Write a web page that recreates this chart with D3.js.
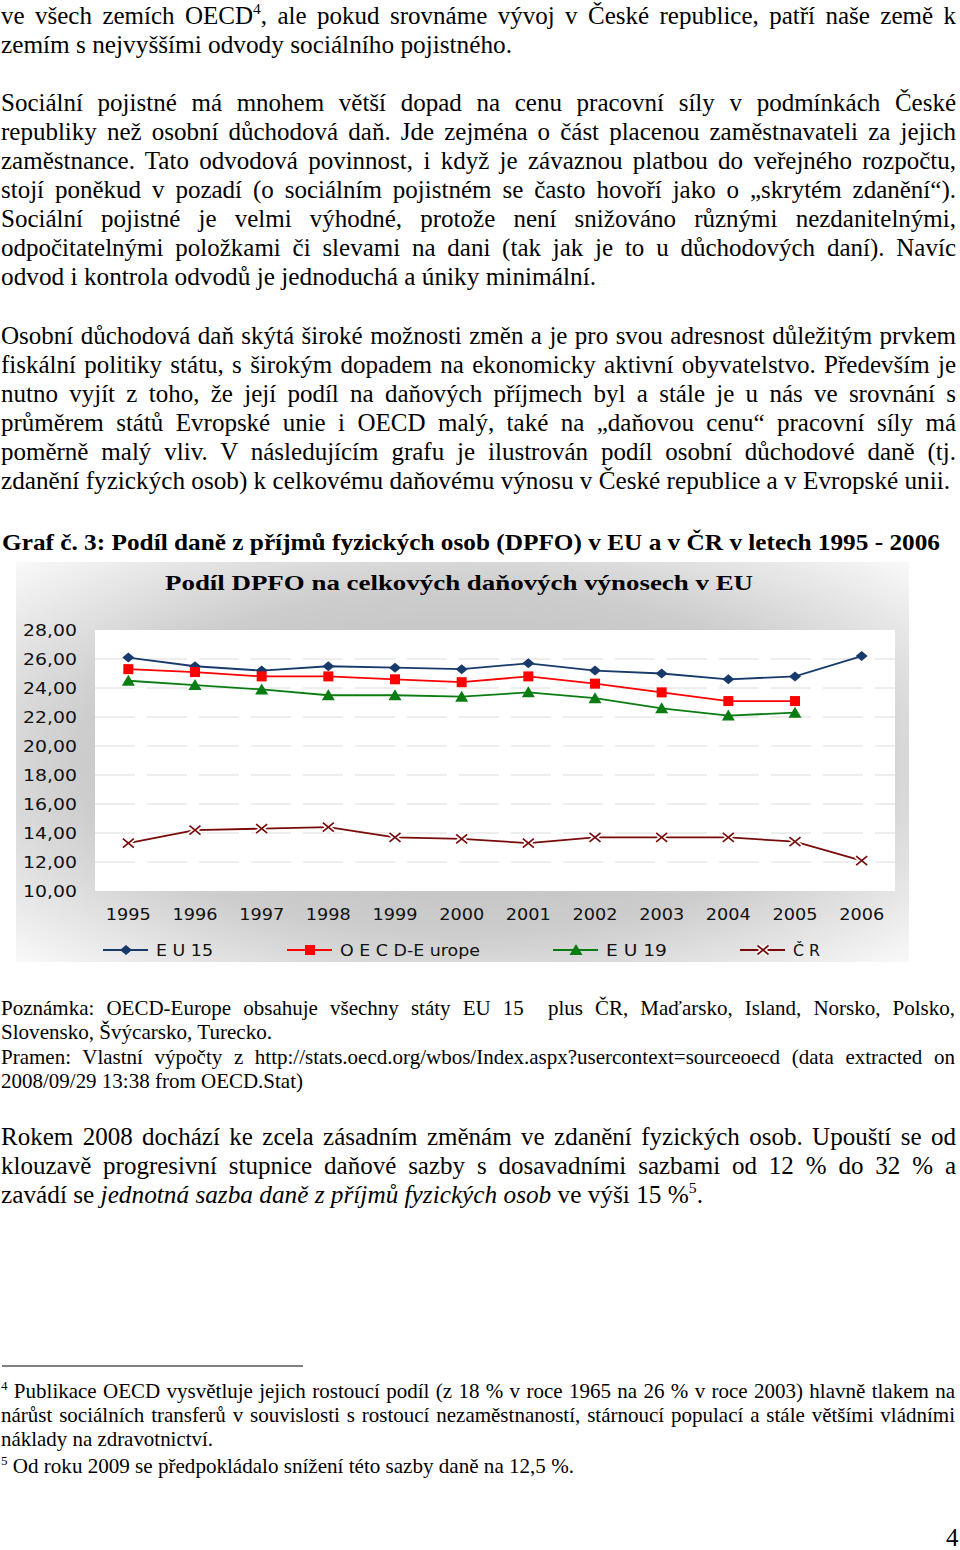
<!DOCTYPE html>
<html><head><meta charset="utf-8">
<script src="https://cdn.jsdelivr.net/npm/d3@7"></script>
<style>body{margin:0;background:#fff}svg{display:block}</style>
</head><body>
<script>
// ---- chart data ----
const years = ["1995","1996","1997","1998","1999","2000","2001","2002","2003","2004","2005","2006"];
const eu15 = [26.1,25.5,25.2,25.5,25.4,25.3,25.7,25.2,25.0,24.6,24.8,26.2];
const oecdEurope = [25.3,25.1,24.8,24.8,24.6,24.4,24.8,24.3,23.7,23.1,23.1,null];
const eu19 = [24.5,24.2,23.9,23.5,23.5,23.4,23.7,23.3,22.6,22.1,22.3,null];
const cr = [13.3,14.2,14.3,14.4,13.7,13.6,13.3,13.7,13.7,13.7,13.4,12.1];
const yTicks = [10,12,14,16,18,20,22,24,26,28];
const seriesNames = ["E U 15","O E C D-E urope","E U 19","Č R"];
const chartTitle = "Podíl DPFO na celkových daňových výnosech v EU";

// ---- page texts ----
const para1 = [
 [{t:"ve všech zemích OECD"},{t:"4",sup:true},{t:", ale pokud srovnáme vývoj v České republice, patří naše země k"}],
 [{t:"zemím s nejvyššími odvody sociálního pojistného."}]
];
const para2 = [
 "Sociální pojistné má mnohem větší dopad na cenu pracovní síly v podmínkách České",
 "republiky než osobní důchodová daň. Jde zejména o část placenou zaměstnavateli za jejich",
 "zaměstnance. Tato odvodová povinnost, i když je závaznou platbou do veřejného rozpočtu,",
 "stojí poněkud v pozadí (o sociálním pojistném se často hovoří jako o „skrytém zdanění“).",
 "Sociální pojistné je velmi výhodné, protože není snižováno různými nezdanitelnými,",
 "odpočitatelnými položkami či slevami na dani (tak jak je to u důchodových daní). Navíc",
 "odvod i kontrola odvodů je jednoduchá a úniky minimální."
];
const para3 = [
 "Osobní důchodová daň skýtá široké možnosti změn a je pro svou adresnost důležitým prvkem",
 "fiskální politiky státu, s širokým dopadem na ekonomicky aktivní obyvatelstvo. Především je",
 "nutno vyjít z toho, že její podíl na daňových příjmech byl a stále je u nás ve srovnání s",
 "průměrem států Evropské unie i OECD malý, také na „daňovou cenu“ pracovní síly má",
 "poměrně malý vliv. V následujícím grafu je ilustrován podíl osobní důchodové daně (tj.",
 "zdanění fyzických osob) k celkovému daňovému výnosu v České republice a v Evropské unii."
];
const heading = "Graf č. 3: Podíl daně z příjmů fyzických osob (DPFO) v EU a v ČR v letech 1995 - 2006";
const notes = [
 "Poznámka: OECD-Europe obsahuje všechny státy EU 15  plus ČR, Maďarsko, Island, Norsko, Polsko,",
 "Slovensko, Švýcarsko, Turecko.",
 "Pramen: Vlastní výpočty z http://stats.oecd.org/wbos/Index.aspx?usercontext=sourceoecd (data extracted on",
 "2008/09/29 13:38 from OECD.Stat)"
];
const para4 = [
 [{t:"Rokem 2008 dochází ke zcela zásadním změnám ve zdanění fyzických osob. Upouští se od"}],
 [{t:"klouzavě progresivní stupnice daňové sazby s dosavadními sazbami od 12 % do 32 % a"}],
 [{t:"zavádí se "},{t:"jednotná sazba daně z příjmů fyzických osob",it:true},{t:" ve výši 15 %"},{t:"5",sup:true},{t:"."}]
];
const footnotes = [
 [{t:"4",sup:true},{t:" Publikace OECD vysvětluje jejich rostoucí podíl (z 18 % v roce 1965 na 26 % v roce 2003) hlavně tlakem na"}],
 [{t:"nárůst sociálních transferů v souvislosti s rostoucí nezaměstnaností, stárnoucí populací a stále většími vládními"}],
 [{t:"náklady na zdravotnictví."}],
 [{t:"5",sup:true},{t:" Od roku 2009 se předpokládalo snížení této sazby daně na 12,5 %."}]
];

const svg = d3.select("body").append("svg").attr("width",960).attr("height",1550);
const SERIF = "'Liberation Serif','Times New Roman',serif";
const SANS = "'DejaVu Sans',Verdana,sans-serif";

// justify: true -> stretch word gaps; false -> scale glyphs to the given width
function line(y, parts, o){
  if (typeof parts === "string") parts=[{t:parts}];
  const size=o.size;
  const t = svg.append("text").attr("x",o.x||1).attr("y",y)
    .attr("font-family",SERIF).attr("font-size",size)
    .attr("font-weight",o.bold?"bold":null).attr("fill","#000")
    .style("white-space","pre");
  let back=0;
  parts.forEach(p=>{
    const ts=t.append("tspan").text(p.t);
    if(p.sup){ const s=size*0.4; ts.attr("dy",-s).attr("font-size",size*0.62); back=s; }
    else if(back){ ts.attr("dy",back); back=0; }
    if(p.it) ts.attr("font-style","italic");
  });
  if(o.w){
    const nat=t.node().getComputedTextLength();
    const full=parts.map(p=>p.t).join("");
    const sp=(full.match(/ /g)||[]).length;
    if(o.justify!==false && nat<o.w && sp>0) t.attr("word-spacing",(o.w-nat)/sp);
    else t.attr("textLength",o.w).attr("lengthAdjust","spacingAndGlyphs");
  }
  return t;
}

// paragraph 1
line(24, para1[0], {size:25,w:955});
line(53, para1[1], {size:25,w:511,justify:false});
// paragraph 2
para2.forEach((s,i)=>{const last=i===para2.length-1; line(111+i*29, s, {size:25, w:last?595:955, justify:!last});});
// paragraph 3
para3.forEach((s,i)=>{const last=i===para3.length-1; line(344+i*29, s, {size:25, w:last?949:955, justify:!last});});
// heading
line(550, heading, {size:23.5,bold:true,x:2,w:938,justify:false});

// ---- chart ----
const panel={x:16,y:562,w:893,h:400};
const defs=svg.append("defs");
const rg=defs.append("radialGradient").attr("id","bg").attr("cx","0.5").attr("cy","0.5").attr("r","0.72");
rg.append("stop").attr("offset","0").attr("stop-color","#b4b4b4");
rg.append("stop").attr("offset","0.6").attr("stop-color","#cdcdcd");
rg.append("stop").attr("offset","1").attr("stop-color","#fbfbfb");
svg.append("rect").attr("x",panel.x).attr("y",panel.y).attr("width",panel.w).attr("height",panel.h).attr("fill","url(#bg)");

svg.append("text").attr("x",165).attr("y",590).attr("font-family",SERIF).attr("font-weight","bold")
  .attr("font-size",22).attr("textLength",588).attr("lengthAdjust","spacingAndGlyphs").text(chartTitle);

const plot={l:95,r:895,t:630,b:891};
svg.append("rect").attr("x",plot.l).attr("y",plot.t).attr("width",plot.r-plot.l).attr("height",plot.b-plot.t).attr("fill","#fff");

const x=d3.scaleBand().domain(years).range([plot.l,plot.r]).padding(0);
const cx=d=>x(d)+x.bandwidth()/2;
const y=d3.scaleLinear().domain([10,28]).range([plot.b,plot.t]);

// gridlines
svg.append("g").selectAll("line").data(yTicks.filter(v=>v>10&&v<28)).join("line")
  .attr("x1",plot.l).attr("x2",plot.r).attr("y1",d=>y(d)).attr("y2",d=>y(d))
  .attr("stroke","#dcdcdc").attr("stroke-width",1).attr("stroke-dasharray","40,12");

// y axis
const fmt=v=>d3.format(".2f")(v).replace(".",",");
const ya=svg.append("g").call(d3.axisLeft(y).tickValues(yTicks).tickFormat(fmt).tickSize(0));
ya.select(".domain").remove();
ya.selectAll("text").attr("x",23).attr("text-anchor","start").attr("dy","0.36em")
  .attr("font-family",SANS).attr("font-size",15).attr("fill","#111")
  .attr("textLength",54).attr("lengthAdjust","spacingAndGlyphs");

// x axis
const xa=svg.append("g").attr("transform",`translate(0,${plot.b})`).call(d3.axisBottom(x).tickSize(0));
xa.select(".domain").remove();
xa.selectAll("text").attr("y",29).attr("dy",0).attr("font-family",SANS).attr("font-size",15.5).attr("fill","#111")
  .attr("textLength",45).attr("lengthAdjust","spacingAndGlyphs");

const series=[
 {name:seriesNames[0],vals:eu15,color:"#173a6b",sym:"diamond"},
 {name:seriesNames[1],vals:oecdEurope,color:"#ff0000",sym:"square"},
 {name:seriesNames[2],vals:eu19,color:"#0a7d12",sym:"triangle"},
 {name:seriesNames[3],vals:cr,color:"#7a0a0a",sym:"x"}
];

function marker(g,sym,color,px,py){
  if(sym==="diamond"){
    g.append("path").attr("d",`M${px},${py-5}L${px+6},${py}L${px},${py+5}L${px-6},${py}Z`).attr("fill",color);
  } else if(sym==="square"){
    g.append("rect").attr("x",px-5).attr("y",py-5).attr("width",10).attr("height",10).attr("fill",color);
  } else if(sym==="triangle"){
    g.append("path").attr("d",`M${px},${py-6}L${px+6.5},${py+5}L${px-6.5},${py+5}Z`).attr("fill",color);
  } else {
    const p=`M${px-5.5},${py-4.5}L${px+5.5},${py+4.5}M${px-5.5},${py+4.5}L${px+5.5},${py-4.5}`;
    g.append("path").attr("d",p).attr("stroke","#fff").attr("stroke-width",5);
    g.append("path").attr("d",p).attr("stroke",color).attr("stroke-width",1.7).attr("fill","none");
  }
}

const lineGen=d3.line().defined(d=>d.v!=null).x(d=>cx(d.yr)).y(d=>y(d.v));
series.forEach(s=>{
  const pts=years.map((yr,i)=>({yr,v:s.vals[i]}));
  const g=svg.append("g");
  g.append("path").attr("d",lineGen(pts)).attr("fill","none").attr("stroke",s.color).attr("stroke-width",1.8);
  pts.filter(d=>d.v!=null).forEach(d=>marker(g,s.sym,s.color,cx(d.yr),y(d.v)));
});

// legend
const legX=[103,287,553,740], legW=[57,140,61,27];
series.forEach((s,i)=>{
  const g=svg.append("g");
  const lx=legX[i], ly=950;
  g.append("line").attr("x1",lx).attr("x2",lx+45).attr("y1",ly).attr("y2",ly).attr("stroke",s.color).attr("stroke-width",1.8);
  marker(g,s.sym,s.color,lx+23,ly);
  g.append("text").attr("x",lx+53).attr("y",ly+5.5).attr("font-family",SANS).attr("font-size",15).attr("fill","#111")
    .attr("textLength",legW[i]).attr("lengthAdjust","spacingAndGlyphs").style("white-space","pre").text(s.name);
});

// notes
notes.forEach((s,i)=>line(1015+i*24.4, s, {size:21, w:[954,271,954,302][i], justify:[true,false,true,false][i]}));
// paragraph 4
para4.forEach((p,i)=>line(1145+i*29, p, {size:25, w:[955,955,702][i], justify:i<2}));
// footnote rule
svg.append("line").attr("x1",2).attr("x2",303).attr("y1",1366).attr("y2",1366).attr("stroke","#000").attr("stroke-width",1);
footnotes.forEach((p,i)=>line([1398,1422,1446,1473][i], p, {size:21, w:[954,954,212,573][i], justify:i<2}));
// page number
svg.append("text").attr("x",946).attr("y",1546).attr("font-family",SERIF).attr("font-size",25).text("4");
</script>
</body></html>
